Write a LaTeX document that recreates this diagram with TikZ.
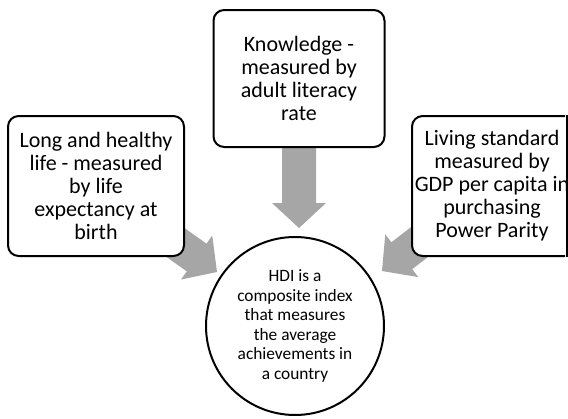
\documentclass[tikz,border=0pt]{standalone}
\usepackage{fontspec}
\setmainfont{Carlito}
\usetikzlibrary{calc}
\definecolor{arrowgray}{HTML}{A6A6A6}
\tikzset{
  boxtext/.style={align=center, inner sep=0pt, font=\fontsize{16.5}{17.25}\selectfont},
  infobox/.style={boxtext, draw=black, line width=1.5pt, fill=white, rounded corners=8pt},
  hubcircle/.style={draw=black, line width=1.5pt, fill=white, circle,
    minimum size=133.5pt, inner sep=0pt, align=center,
    font=\fontsize{13}{14.7}\selectfont}
}
% grey block arrow from a node centre (#1) to a tip coordinate (#2)
\newcommand\blockarrow[2]{%
  \coordinate (hb) at ($(#2)!18.75pt!(#1)$);
  \fill[arrowgray]
    ($(#1)!12.75pt!90:(#2)$) -- ($(hb)!12.75pt!-90:(#1)$) --
    ($(hb)!20.25pt!-90:(#1)$) -- (#2) -- ($(hb)!20.25pt!90:(#1)$) --
    ($(hb)!12.75pt!90:(#1)$) -- ($(#1)!12.75pt!-90:(#2)$) -- cycle;
}
\begin{document}
\begin{tikzpicture}[x=0.75pt,y=-0.75pt]
  \useasboundingbox (0,0) rectangle (568,418);
  \clip (0,0) rectangle (568,418);
  % anchor points of the boxes and the hub
  \coordinate (lifec) at (96,186);
  \coordinate (knowc) at (299,78.5);
  \coordinate (livc) at (492,186);
  \coordinate (hubc) at (295,326);
  \coordinate (tipL) at (217,272);
  \coordinate (tipT) at (299,228);
  \coordinate (tipR) at (382,271);
  % converging arrows, drawn first so the boxes cover their tails
  \blockarrow{lifec}{tipL}
  \blockarrow{knowc}{tipT}
  \blockarrow{livc}{tipR}
  % outer boxes
  \node[infobox, minimum width=132pt, minimum height=105pt] (life) at (lifec)
    {Long and healthy\\life - measured\\by life\\expectancy at\\birth};
  \node[infobox, minimum width=128.25pt, minimum height=102.75pt] (know) at (knowc)
    {Knowledge -\\measured by\\adult literacy\\rate};
  % right box: cut off by a straight edge on its right side
  \begin{scope}
    \clip (0,0) rectangle (565,418);
    \node[infobox, minimum width=141pt, minimum height=105pt] (liv) at (506,186) {};
    \node[boxtext] (livtext) at (livc)
      {Living standard\\measured by\\GDP per capita in\\purchasing\\Power Parity};
  \end{scope}
  \draw[line width=1.5pt] (liv.north -| 566.5,0) -- (liv.south -| 566.5,0);
  % central hub
  \node[hubcircle] (hub) at (hubc)
    {HDI is a\\composite index\\that measures\\the average\\achievements in\\a country};
\end{tikzpicture}
\end{document}
